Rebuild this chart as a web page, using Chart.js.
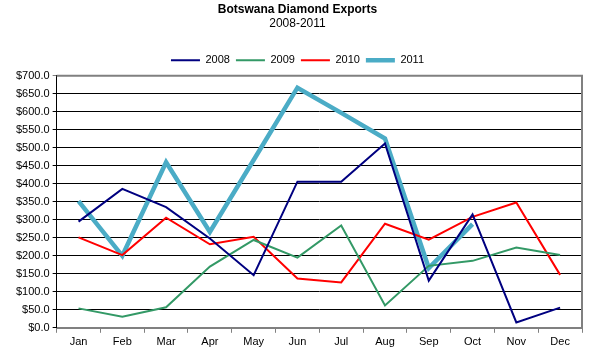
<!DOCTYPE html>
<html>
<head>
<meta charset="utf-8">
<script src="https://cdn.jsdelivr.net/npm/chart.js@4"></script>
<style>
  body { margin: 0; background: #fff; }
</style>
</head>
<body>
<canvas id="chart" width="590" height="361"></canvas>
<script>
const months = ['Jan', 'Feb', 'Mar', 'Apr', 'May', 'Jun', 'Jul', 'Aug', 'Sep', 'Oct', 'Nov', 'Dec'];
const exports2008 = [295, 386, 335, 248, 146, 406, 406, 512, 131, 315, 15, 56];
const exports2009 = [54, 31, 57, 170, 244, 195, 284, 62, 172, 186, 223, 202];
const exports2010 = [251, 202, 306, 232, 253, 137, 126, 289, 245, 308, 348, 147];
const exports2011 = [352, 200, 460, 266, 466, 667, 597, 526, 166, 288, null, null];

const fontFamily = '"Liberation Sans", Arial, sans-serif';

// gray frame along the top and right of the plot area
const plotFrame = {
  id: 'plotFrame',
  afterDatasetsDraw(chart) {
    const { ctx, chartArea: a } = chart;
    ctx.save();
    ctx.strokeStyle = '#808080';
    ctx.lineWidth = 2;
    ctx.beginPath();
    ctx.moveTo(a.left, a.top);
    ctx.lineTo(a.right, a.top);
    ctx.lineTo(a.right, a.bottom);
    ctx.stroke();
    ctx.restore();
  }
};

const ctx = document.getElementById('chart').getContext('2d');
const chart = new Chart(ctx, {
  type: 'line',
  data: {
    labels: months,
    datasets: [
      { label: '2008', data: exports2008, borderColor: '#000080', borderWidth: 2 },
      { label: '2009', data: exports2009, borderColor: '#339966', borderWidth: 2 },
      { label: '2010', data: exports2010, borderColor: '#FF0000', borderWidth: 2 },
      { label: '2011', data: exports2011, borderColor: '#4BACC6', borderWidth: 4.5 }
    ]
  },
  options: {
    responsive: false,
    animation: false,
    elements: {
      line: { tension: 0, fill: false },
      point: { radius: 0, hoverRadius: 0 }
    },
    layout: { padding: { top: 2, left: 13, right: 8, bottom: 9 } },
    plugins: {
      title: {
        display: true,
        text: 'Botswana Diamond Exports',
        color: '#000',
        font: { family: fontFamily, size: 12, weight: 'bold' },
        padding: { top: 0, bottom: 0 }
      },
      subtitle: {
        display: true,
        text: '2008-2011',
        color: '#000',
        font: { family: fontFamily, size: 12 },
        padding: { top: 0, bottom: 18 }
      },
      legend: {
        display: true,
        labels: {
          usePointStyle: true,
          pointStyle: 'line',
          pointStyleWidth: 29,
          color: '#000',
          font: { family: fontFamily, size: 11 },
          padding: 6
        }
      },
      tooltip: { enabled: false }
    },
    scales: {
      x: {
        offset: true,
        grid: { offset: true, drawOnChartArea: false, drawTicks: true, tickLength: 5, color: '#808080' },
        border: { color: '#808080', width: 2 },
        ticks: { color: '#000', font: { family: fontFamily, size: 11 }, padding: 3 }
      },
      y: {
        min: 0,
        max: 700,
        grid: {
          color: (c) => c.tick && c.tick.value === 700 ? '#808080' : '#000',
          lineWidth: 1,
          tickLength: 4
        },
        border: { color: '#000', width: 1 },
        ticks: {
          stepSize: 50,
          color: '#000',
          font: { family: fontFamily, size: 11 },
          padding: 3,
          callback: (v) => '$' + Number(v).toFixed(1)
        }
      }
    }
  },
  plugins: [plotFrame]
});
</script>
</body>
</html>
